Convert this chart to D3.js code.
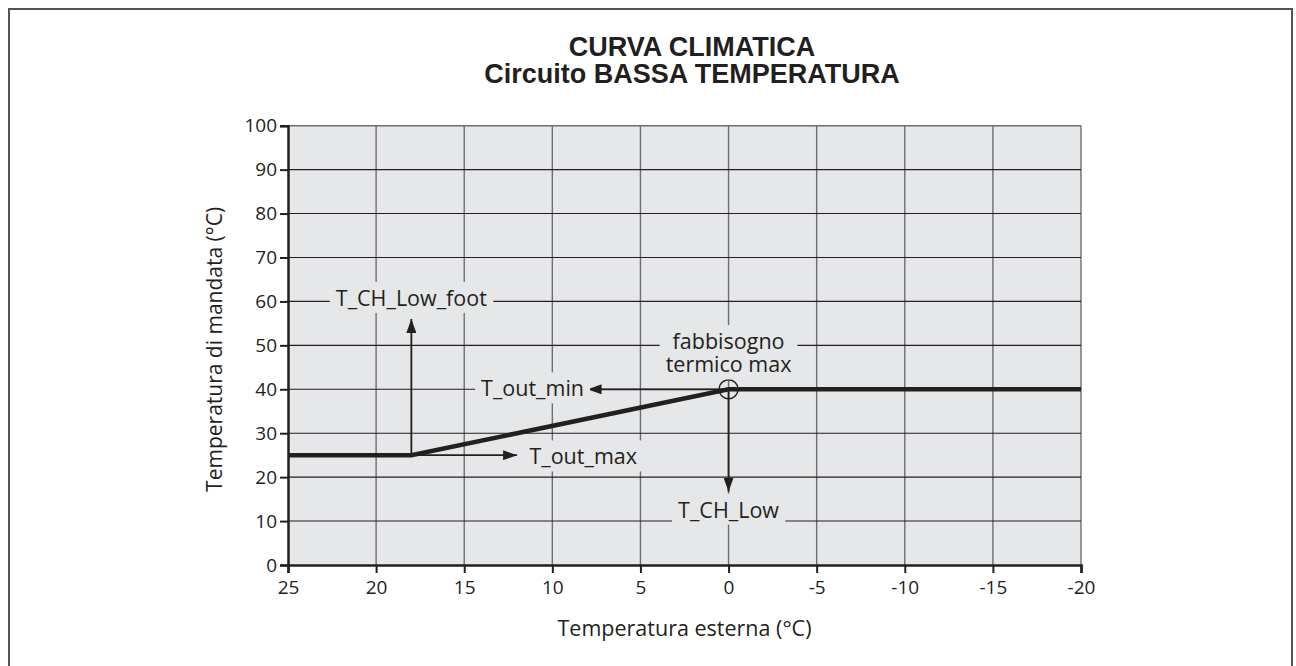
<!DOCTYPE html>
<html>
<head>
<meta charset="utf-8">
<script src="https://cdn.jsdelivr.net/npm/d3@7"></script>
<style>
  html, body { margin: 0; padding: 0; background: #fff; }
  svg { display: block; }
</style>
</head>
<body>
<svg id="chart" width="1296" height="666"></svg>
<script>
// Heating curve for the low-temperature circuit
const outdoorTemps = [25, 18, 0, -20];       // outdoor temperature (°C)
const flowTemps    = [25, 25, 40, 40];       // flow temperature (°C)

const xTicks = [25, 20, 15, 10, 5, 0, -5, -10, -15, -20];
const yTicks = [0, 10, 20, 30, 40, 50, 60, 70, 80, 90, 100];

const titleLines = ["CURVA CLIMATICA", "Circuito BASSA TEMPERATURA"];
const xLabel = "Temperatura esterna (°C)";
const yLabel = "Temperatura di mandata (°C)";

// Arrows: start point and tip in chart units
const arrows = [
  { from: [18, 25], to: [18, 56] },
  { from: [18, 25], to: [12, 25] },
  { from: [0, 40],  to: [8, 40] },
  { from: [0, 40],  to: [0, 16.7] }
];

// Annotation labels anchored in chart units
const notes = [
  { text: ["T_CH_Low_foot"], at: [18, 60.7], anchor: "middle" },
  { text: ["T_out_max"],     at: [11.3, 24.6], anchor: "start" },
  { text: ["T_out_min"],     at: [8.2, 40.1], anchor: "end" },
  { text: ["fabbisogno", "termico max"], at: [0, 48.2], anchor: "middle" },
  { text: ["T_CH_Low"],      at: [0, 12.5], anchor: "middle" }
];

const maxDemandPoint = [0, 40];

const svg = d3.select("#chart");
const plot = { left: 288, right: 1081, top: 125.7, bottom: 565 };
const bg = "#e6e7e8";
const ink = "#231f20";
const gridGray = "#6d6e71";
const font = "'Open Sans', 'Noto Sans', sans-serif";

// outer frame
svg.append("rect")
  .attr("x", 9).attr("y", 9)
  .attr("width", 1283).attr("height", 680)
  .attr("fill", "none").attr("stroke", "#555").attr("stroke-width", 2);

const x = d3.scaleLinear().domain([25, -20]).range([plot.left, plot.right]);
const y = d3.scaleLinear().domain([0, 100]).range([plot.bottom, plot.top]);

// plot background
svg.append("rect")
  .attr("x", x(25)).attr("y", y(100))
  .attr("width", x(-20) - x(25)).attr("height", y(0) - y(100))
  .attr("fill", bg);

// vertical grid (gray)
svg.append("g").selectAll("line")
  .data(xTicks.filter(d => d !== 25))
  .join("line")
  .attr("x1", d => x(d)).attr("x2", d => x(d))
  .attr("y1", y(0)).attr("y2", y(100))
  .attr("stroke", gridGray).attr("stroke-width", 1.4);

// horizontal grid (dark)
svg.append("g").selectAll("line")
  .data(yTicks.filter(d => d !== 0))
  .join("line")
  .attr("x1", x(25)).attr("x2", x(-20))
  .attr("y1", d => y(d)).attr("y2", d => y(d))
  .attr("stroke", d => d === 100 ? gridGray : ink)
  .attr("stroke-width", d => d === 100 ? 1.6 : 1.1);

// axes
const xAxis = d3.axisBottom(x).tickValues(xTicks).tickSize(8).tickPadding(8).tickFormat(d3.format("d"));
const yAxis = d3.axisLeft(y).tickValues(yTicks).tickSize(8).tickPadding(3).tickFormat(d3.format("d"));

const gx = svg.append("g").attr("transform", `translate(0,${y(0)})`).call(xAxis);
const gy = svg.append("g").attr("transform", `translate(${x(25)},0)`).call(yAxis);
[gx, gy].forEach(g => {
  g.select(".domain").attr("stroke", ink).attr("stroke-width", 2.5);
  g.selectAll(".tick line").attr("stroke", ink).attr("stroke-width", 2);
  g.selectAll(".tick text").attr("fill", ink).attr("font-family", font).attr("font-size", 19);
});
gx.selectAll(".tick text").text(d => d < 0 ? "-" + Math.abs(d) : d);

// label backgrounds and text
const noteFont = 21.5;
const lineH = 23.3;
const noteGroup = svg.append("g");
const textNodes = [];
notes.forEach(n => {
  const g = noteGroup.append("g");
  const rect = g.append("rect").attr("fill", bg);
  const t = g.append("text")
    .attr("font-family", font).attr("font-size", noteFont).attr("fill", ink)
    .attr("text-anchor", n.anchor);
  const cy = y(n.at[1]);
  const n0 = n.text.length;
  n.text.forEach((s, i) => {
    t.append("tspan")
      .attr("x", x(n.at[0]))
      .attr("y", cy + (i - (n0 - 1) / 2) * lineH)
      .attr("dy", "0.35em")
      .text(s);
  });
  textNodes.push({ rect, t });
});

// arrows
svg.append("defs").append("marker")
  .attr("id", "arrowhead")
  .attr("viewBox", "0 0 14 10")
  .attr("refX", 14).attr("refY", 5)
  .attr("markerUnits", "userSpaceOnUse")
  .attr("markerWidth", 14).attr("markerHeight", 10)
  .attr("orient", "auto")
  .append("path").attr("d", "M0,0 L14,5 L0,10 Z").attr("fill", ink);

svg.append("g").selectAll("line")
  .data(arrows)
  .join("line")
  .attr("x1", d => x(d.from[0])).attr("y1", d => y(d.from[1]))
  .attr("x2", d => x(d.to[0])).attr("y2", d => y(d.to[1]))
  .attr("stroke", ink).attr("stroke-width", 1.8)
  .attr("marker-end", "url(#arrowhead)");

// heating curve
const line = d3.line().x((d, i) => x(outdoorTemps[i])).y(d => y(d));
svg.append("path")
  .datum(flowTemps)
  .attr("d", line)
  .attr("fill", "none").attr("stroke", ink)
  .attr("stroke-width", 4.5).attr("stroke-linejoin", "miter");

// max demand marker
svg.append("circle")
  .attr("cx", x(maxDemandPoint[0])).attr("cy", y(maxDemandPoint[1]))
  .attr("r", 9.5)
  .attr("fill", "none").attr("stroke", ink).attr("stroke-width", 1.5);

// size label backgrounds to their text
textNodes.forEach(({ rect, t }) => {
  const b = t.node().getBBox();
  rect.attr("x", b.x - 6).attr("y", b.y - 1)
    .attr("width", b.width + 12).attr("height", b.height + 2);
});
noteGroup.raise();

// titles
svg.append("text")
  .attr("x", 692).attr("text-anchor", "middle")
  .attr("font-family", "'Liberation Sans', Arial, sans-serif")
  .attr("font-weight", "bold").attr("font-size", 27).attr("fill", ink)
  .selectAll("tspan").data(titleLines).join("tspan")
  .attr("x", 692).attr("y", (d, i) => 56 + i * 27)
  .text(d => d);

// axis titles
svg.append("text")
  .attr("x", (plot.left + plot.right) / 2).attr("y", 636)
  .attr("text-anchor", "middle")
  .attr("font-family", font).attr("font-size", 21.5).attr("fill", ink)
  .text(xLabel);

svg.append("text")
  .attr("transform", `translate(222,${(plot.top + plot.bottom) / 2 + 4}) rotate(-90)`)
  .attr("text-anchor", "middle")
  .attr("font-family", font).attr("font-size", 21).attr("fill", ink)
  .text(yLabel);
</script>
</body>
</html>
